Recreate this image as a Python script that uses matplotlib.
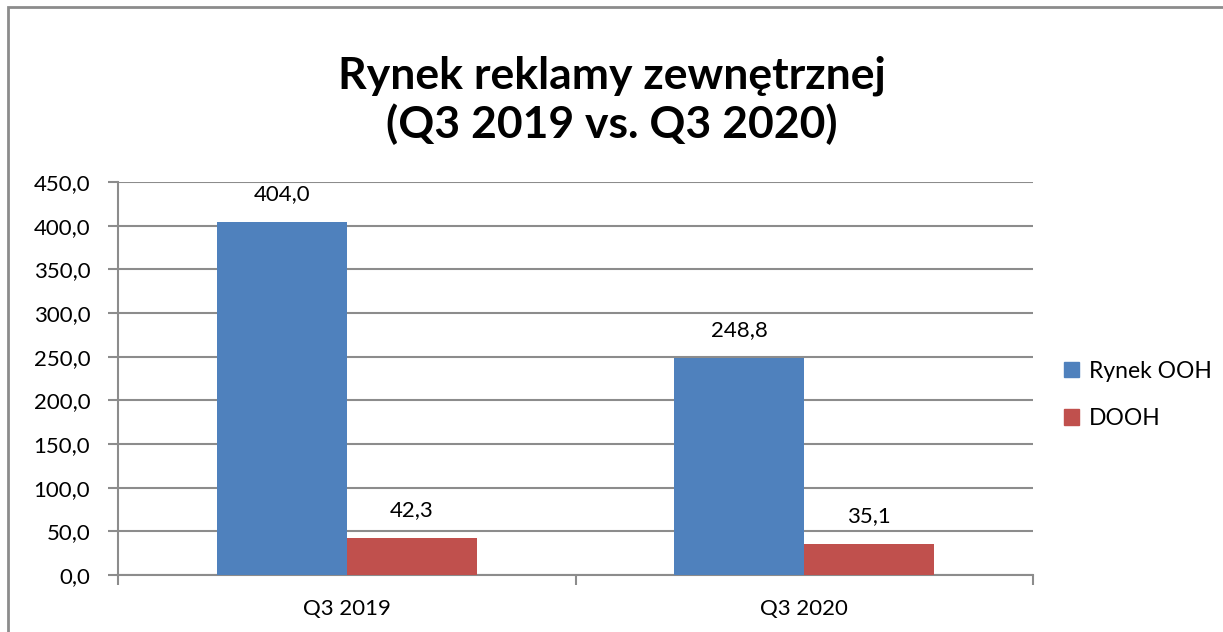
import matplotlib.pyplot as plt
from matplotlib.patches import Rectangle, Patch
import numpy as np

plt.rcParams["font.family"] = ["Lato", "DejaVu Sans"]

categories = ["Q3 2019", "Q3 2020"]
series_names = ["Rynek OOH", "DOOH"]
rynek_ooh = [404.0, 248.8]
dooh = [42.3, 35.1]
y_ticks = [0, 50, 100, 150, 200, 250, 300, 350, 400, 450]

blue = "#4F81BD"
red = "#C0504D"
grid_col = "#8C8C8C"
fs = 16

fig = plt.figure(figsize=(12.23, 6.32), dpi=100)
ax = fig.add_axes([118 / 1223, 57 / 632, (1033 - 118) / 1223, (575 - 182) / 632])

# outer chart frame
fig.patches.append(Rectangle((8 / 1223, -0.1), 1.2, (625 / 632) + 0.1,
                             transform=fig.transFigure, fill=False,
                             edgecolor=grid_col, linewidth=2))

x = np.arange(len(categories))
w = 0.284
b1 = ax.bar(x - w / 2, rynek_ooh, w, color=blue, zorder=3)
b2 = ax.bar(x + w / 2, dooh, w, color=red, zorder=3)

def fmt(v):
    return "{:.1f}".format(v).replace(".", ",")

for bars in (b1, b2):
    for r in bars:
        ax.annotate(fmt(r.get_height()), (r.get_x() + r.get_width() / 2, r.get_height()),
                    xytext=(0, 13), textcoords="offset points", ha="center", va="bottom",
                    fontsize=fs)

ax.set_ylim(0, 450)
ax.set_xlim(-0.5, 1.5)
ax.set_yticks(y_ticks)
ax.set_yticklabels([fmt(v) for v in y_ticks], fontsize=fs)
ax.yaxis.grid(True, color=grid_col, linewidth=1.5, zorder=0)
ax.set_axisbelow(True)

ax.set_xticks([-0.5, 0.5, 1.5])
ax.set_xticklabels([])
ax.set_xticks(x, minor=True)
ax.set_xticklabels(categories, minor=True, fontsize=fs)
ax.tick_params(axis="x", which="minor", length=0, pad=17)
ax.tick_params(axis="x", which="major", length=7, width=1.5, color=grid_col)
ax.tick_params(axis="y", length=7, width=1.5, color=grid_col, pad=13)

for s in ["top", "right"]:
    ax.spines[s].set_visible(False)
for s in ["left", "bottom"]:
    ax.spines[s].set_color(grid_col)
    ax.spines[s].set_linewidth(1.5)

handles = [Patch(color=blue), Patch(color=red)]
fig.legend(handles, series_names, loc="center left", bbox_to_anchor=(1043 / 1223, 1 - 395 / 632),
           frameon=False, fontsize=fs + 0.5, handlelength=0.65, handleheight=0.65,
           handletextpad=0.45, labelspacing=1.15)

fig.text(0.5, 1 - 100 / 632, "Rynek reklamy zewnętrznej\n(Q3 2019 vs. Q3 2020)",
         ha="center", va="center", fontsize=32, fontweight="bold", linespacing=1.22)

fig.savefig("out.png", dpi=100)
